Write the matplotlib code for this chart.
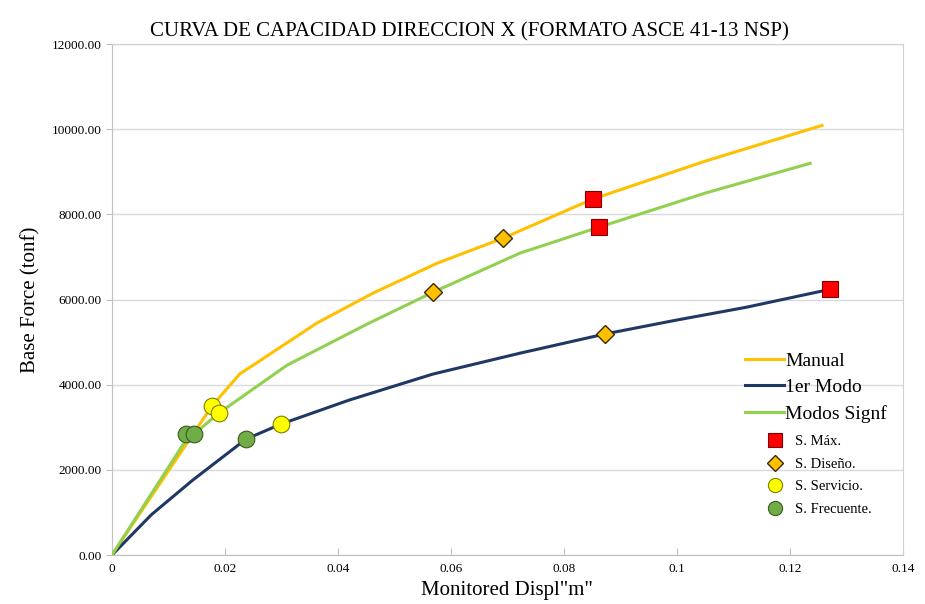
import matplotlib
matplotlib.use("Agg")

import matplotlib.pyplot as plt
from matplotlib.ticker import FormatStrFormatter

# capacity curves (displacement m, base force tonf)
manual_x = [0, 0.0177, 0.0226, 0.0363, 0.0462, 0.0575, 0.0692, 0.0851, 0.1050, 0.1257]
manual_y = [0, 3500, 4250, 5450, 6150, 6850, 7440, 8360, 9250, 10090]

modo1_x = [0, 0.0070, 0.0143, 0.0237, 0.0299, 0.0420, 0.0568, 0.0722, 0.0872, 0.1000, 0.1123, 0.1271]
modo1_y = [0, 950, 1760, 2720, 3075, 3640, 4250, 4740, 5190, 5520, 5820, 6240]

signf_x = [0, 0.0131, 0.0145, 0.0189, 0.0310, 0.0451, 0.0568, 0.0722, 0.0862, 0.1050, 0.1236]
signf_y = [0, 2700, 2840, 3330, 4460, 5420, 6170, 7090, 7700, 8500, 9200]

# performance points
smax_x = [0.0851, 0.0862, 0.1271]
smax_y = [8360, 7700, 6240]
sdis_x = [0.0692, 0.0568, 0.0872]
sdis_y = [7440, 6170, 5190]
sserv_x = [0.0177, 0.0189, 0.0299]
sserv_y = [3500, 3330, 3075]
sfrec_x = [0.0131, 0.0145, 0.0237]
sfrec_y = [2840, 2840, 2720]

x_ticks = [0, 0.02, 0.04, 0.06, 0.08, 0.1, 0.12, 0.14]
x_labels = ["0", "0.02", "0.04", "0.06", "0.08", "0.1", "0.12", "0.14"]

plt.rcParams["font.family"] = ["Liberation Serif", "DejaVu Serif"]

fig = plt.figure(figsize=(9.25, 6.04), dpi=100)
ax = fig.add_axes([0.121, 0.081, 0.855, 0.846])

l1, = ax.plot(manual_x, manual_y, color="#FFC000", lw=2.2, label="Manual", zorder=3)
l2, = ax.plot(modo1_x, modo1_y, color="#1F3864", lw=2.2, label="1er Modo", zorder=3)
l3, = ax.plot(signf_x, signf_y, color="#92D050", lw=2.2, label="Modos Signf", zorder=3)

m1, = ax.plot(smax_x, smax_y, ls="none", marker="s", ms=12, mfc="#FF0000", mec="#7F0000",
              mew=0.8, label="S. Máx.", zorder=5)
m2, = ax.plot(sdis_x, sdis_y, ls="none", marker="D", ms=9, mfc="#FFC000", mec="#3A2A00",
              mew=1.0, label="S. Diseño.", zorder=5)
m3, = ax.plot(sserv_x, sserv_y, ls="none", marker="o", ms=12, mfc="#FFFF00", mec="#7F7F00",
              mew=0.8, label="S. Servicio.", zorder=5)
m4, = ax.plot(sfrec_x, sfrec_y, ls="none", marker="o", ms=12, mfc="#70AD47", mec="#3A5A20",
              mew=0.8, label="S. Frecuente.", zorder=5)

ax.set_xlim(0, 0.14)
ax.set_ylim(0, 12000)
ax.set_xticks(x_ticks)
ax.set_xticklabels(x_labels)
ax.set_yticks(range(0, 12001, 2000))
ax.yaxis.set_major_formatter(FormatStrFormatter("%.2f"))
ax.tick_params(axis="x", direction="in", length=5, color="#BFBFBF", labelsize=9.5, pad=6)
ax.tick_params(axis="y", direction="out", length=4, color="#BFBFBF", labelsize=9.5)
ax.grid(axis="y", color="#D9D9D9", lw=1.0)
ax.set_axisbelow(True)
for s in ax.spines.values():
    s.set_color("#D0D0D0")
ax.spines["left"].set_color("#BFBFBF")
ax.spines["bottom"].set_color("#BFBFBF")

fig.text(0.508, 0.947, "CURVA DE CAPACIDAD DIRECCION X (FORMATO ASCE 41-13 NSP)",
         fontsize=15, ha="center", va="center")
ax.set_xlabel('Monitored Displ"m"', fontsize=15, labelpad=4)
ax.set_ylabel("Base Force (tonf)", fontsize=15, labelpad=8)

leg1 = fig.legend(handles=[l1, l2, l3], loc="upper left", bbox_to_anchor=(0.805, 0.417),
                  frameon=False, fontsize=14, handlelength=2.0, handletextpad=0.1,
                  labelspacing=0.45, borderpad=0, borderaxespad=0)
leg2 = fig.legend(handles=[m1, m2, m3, m4], loc="upper left", bbox_to_anchor=(0.830, 0.28),
                  frameon=False, fontsize=10.5, handlelength=1.0, handletextpad=0.9,
                  labelspacing=0.65, borderpad=0, borderaxespad=0, markerscale=0.85)

fig.savefig("out.png", dpi=100)
plt.close(fig)
